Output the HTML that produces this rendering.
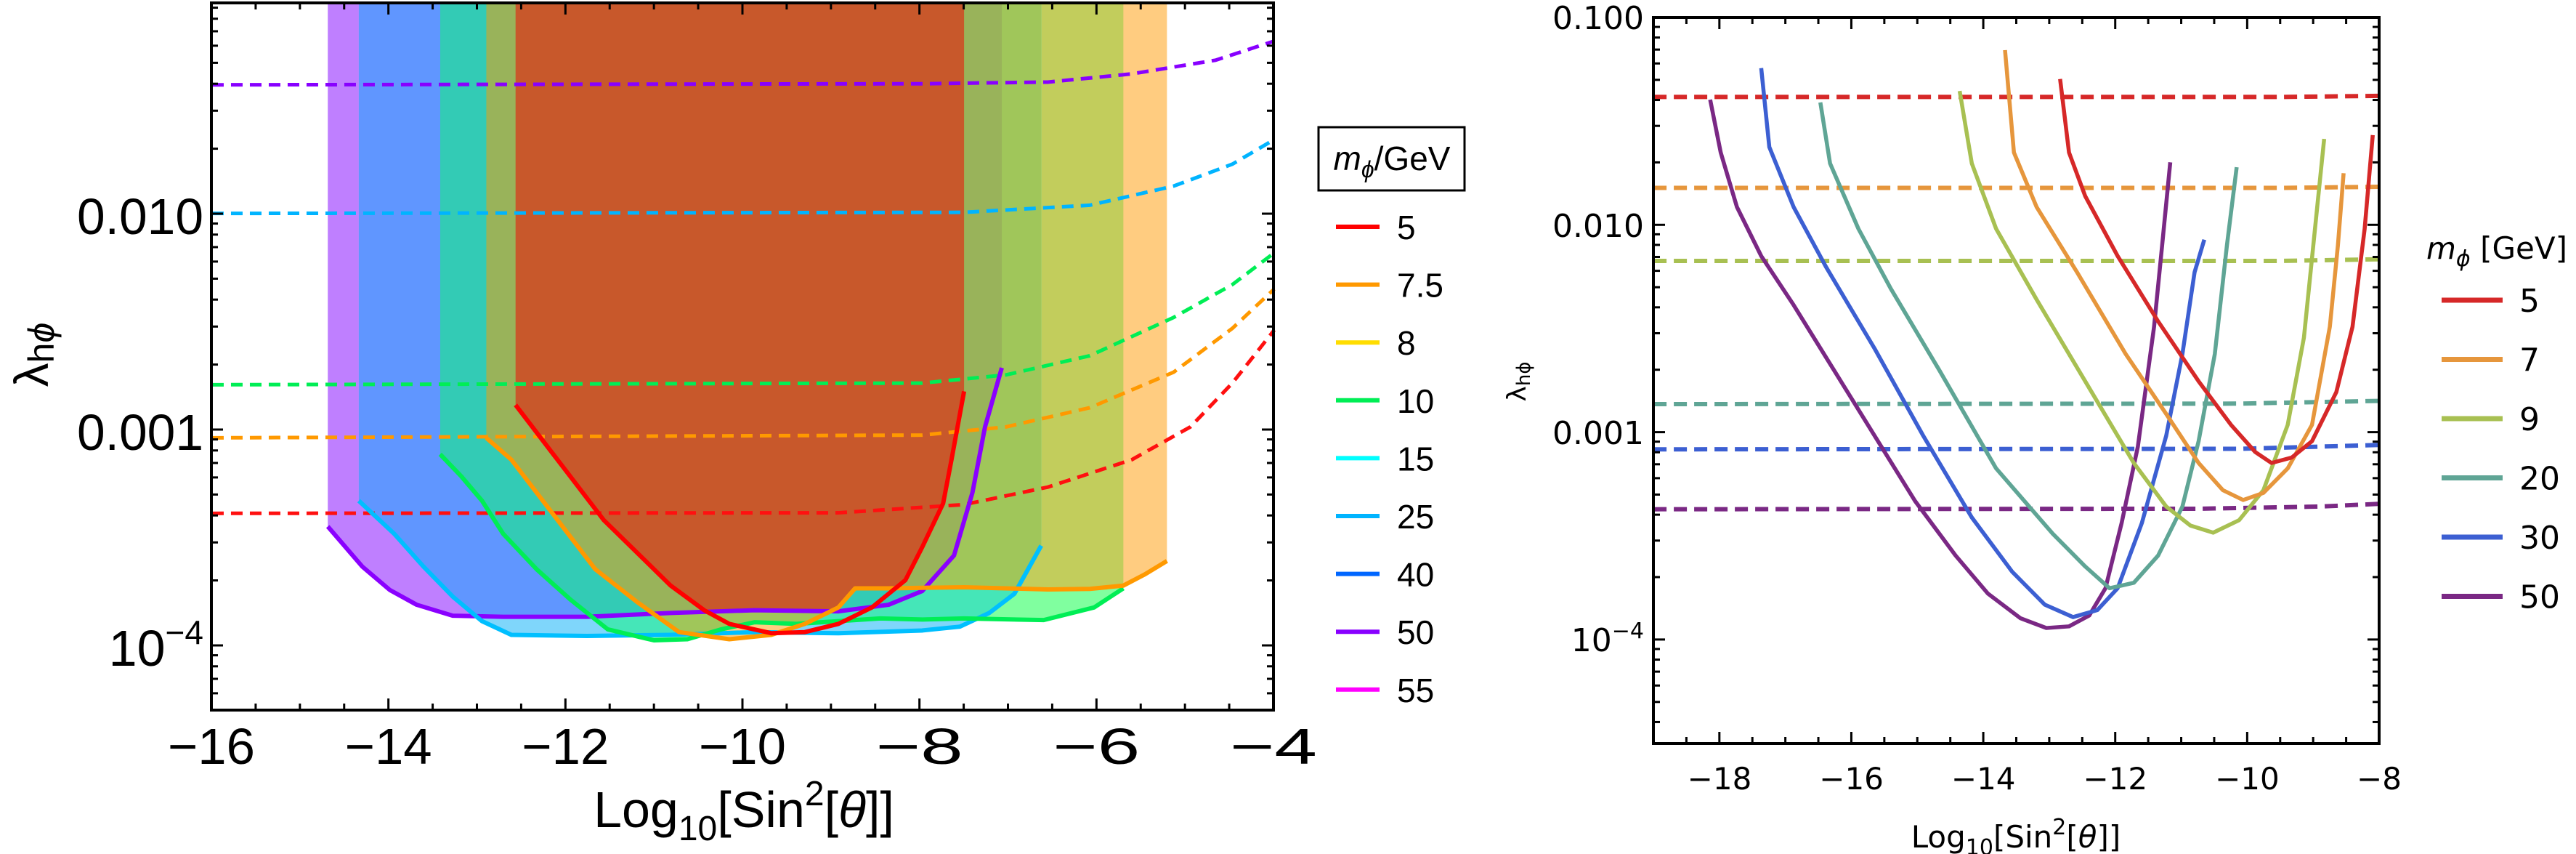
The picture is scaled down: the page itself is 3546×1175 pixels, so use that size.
<!DOCTYPE html>
<html><head><meta charset="utf-8"><style>
html,body{margin:0;padding:0;background:#fff;}
svg{display:block;}
</style></head><body>
<svg id="s" xmlns="http://www.w3.org/2000/svg" width="3546" height="1175" viewBox="0 0 3546 1175">
<defs>
<clipPath id="cP"><path id="pP" d=""/></clipPath>
<clipPath id="cC"><path id="pC" d=""/></clipPath>
<clipPath id="cG"><path id="pG" d=""/></clipPath>
<clipPath id="cO"><path id="pO" d=""/></clipPath>
<clipPath id="cR"><path id="pR" d=""/></clipPath>
</defs>
<g id="left" transform="scale(1.154,0.753)"></g>
<g id="right" transform="translate(1800,0) scale(1.115,0.7494)"></g>
<g id="ann"></g>
</svg>
<script>
var NS="http://www.w3.org/2000/svg";
function el(parent,tag,attrs,text){var e=document.createElementNS(NS,tag);for(var k in attrs)e.setAttribute(k,attrs[k]);if(text!==undefined)e.textContent=text;parent.appendChild(e);return e;}
function pts(a){return a.map(function(p){return p[0]+","+p[1]}).join(" L");}
var T=5;
var cP=[[391,962],[432,1035],[465,1078],[497,1105],[540,1125],[600,1127],[700,1127],[800,1120],[900,1115],[1000,1117],[1060,1105],[1100,1080],[1138,1015],[1160,900],[1175,780],[1195,672]];
var cC=[[428,915],[470,975],[505,1035],[540,1090],[575,1135],[610,1160],[700,1162],[800,1160],[900,1155],[1000,1157],[1100,1152],[1145,1145],[1180,1120],[1210,1085],[1242,997]];
var cG=[[525,830],[550,870],[575,915],[600,975],[640,1040],[680,1095],[725,1150],[780,1170],[820,1168],[860,1150],[900,1137],[950,1140],[1000,1135],[1050,1130],[1100,1132],[1150,1130],[1245,1133],[1305,1110],[1340,1075]];
var cO=[[580,800],[610,840],[640,900],[670,960],[710,1040],[760,1100],[810,1155],[870,1168],[920,1160],[960,1140],[1000,1110],[1020,1075],[1060,1075],[1150,1073],[1250,1077],[1300,1076],[1340,1070],[1365,1050],[1392,1025]];
var cR=[[615,740],[640,790],[680,870],[720,950],[760,1010],[800,1070],[840,1115],[870,1140],[920,1157],[960,1155],[1000,1140],[1040,1110],[1080,1060],[1100,1000],[1125,920],[1135,840],[1150,715]];
function region(c){var a=c[0],b=c[c.length-1];return "M"+a[0]+","+T+" L"+pts(c)+" L"+b[0]+","+T+" Z";}
document.getElementById("pP").setAttribute("d",region(cP));
document.getElementById("pC").setAttribute("d",region(cC));
document.getElementById("pG").setAttribute("d",region(cG));
document.getElementById("pO").setAttribute("d",region(cO));
document.getElementById("pR").setAttribute("d",region(cR));
var L=document.getElementById("left");
function fillR(c,col,clips){var g=L;for(var i=0;i<clips.length;i++){g=el(g,"g",{"clip-path":"url(#"+clips[i]+")"});}el(g,"path",{d:region(c),fill:col});}
fillR(cP,"#bf7fff",[]);
fillR(cC,"#7fd6fb",[]);
fillR(cG,"#80ff9f",[]);
fillR(cO,"#ffcc80",[]);
fillR(cG,"#c2cd5c",["cO"]);
fillR(cC,"#45e6b8",["cG"]);
fillR(cC,"#a0c65a",["cO","cG"]);
fillR(cC,"#6096ff",["cP"]);
fillR(cC,"#33cbb5",["cP","cG"]);
fillR(cC,"#99b35a",["cP","cG","cO"]);
fillR(cR,"#c8582b",["cP","cC","cG","cO"]);
var dl=[["#8800ff",[[253,155],[1100,153],[1250,150],[1350,135],[1450,110],[1520,75]]],
["#00b4ff",[[253,390],[1150,388],[1300,375],[1400,340],[1470,300],[1520,255]]],
["#00ee55",[[253,703],[1100,700],[1200,685],[1300,650],[1400,580],[1470,520],[1520,462]]],
["#ff9900",[[253,800],[1100,795],[1200,780],[1300,745],[1400,680],[1470,600],[1520,528]]],
["#ff1010",[[253,938],[1000,937],[1150,922],[1250,890],[1350,840],[1420,780],[1470,700],[1520,603]]]];
dl.forEach(function(d){el(L,"path",{d:"M"+pts(d[1]),fill:"none",stroke:d[0],"stroke-width":5,"stroke-dasharray":"16 10","vector-effect":"non-scaling-stroke"});});
[["#8a00ff",cP],["#00bfff",cC],["#00ee55",cG],["#ff9900",cO],["#ff0000",cR]].forEach(function(d){
 var c=d[1];
 el(L,"path",{d:"M"+pts(c),fill:"none",stroke:d[0],"stroke-width":6,"stroke-linejoin":"round","vector-effect":"non-scaling-stroke"});});
var R=document.getElementById("right");
var rd=[["#d62828",[[427,178],[1200,178],[1323,176]]],["#e6963c",[[427,345],[1200,345],[1323,343]]],["#a8c052",[[427,479],[1200,479],[1323,476]]],["#5fa595",[[427,742],[1150,741],[1323,736]]],["#3c5fd2",[[427,825],[1150,824],[1323,817]]],["#7a2884",[[427,935],[1100,934],[1250,930],[1323,925]]]];
rd.forEach(function(d){el(R,"path",{d:"M"+pts(d[1]),fill:"none",stroke:d[0],"stroke-width":6,"stroke-dasharray":"18 10","vector-effect":"non-scaling-stroke"});});
var rs=[["#7a2884",[[497,183],[510,280],[530,380],[560,470],[600,560],[650,680],[700,800],[750,920],[800,1020],[840,1090],[880,1135],[912,1153],[940,1150],[965,1130],[985,1080],[1005,960],[1025,820],[1045,600],[1055,450],[1065,298]]],
["#3c5fd2",[[560,125],[570,270],[600,380],[640,490],[700,640],[760,800],[820,950],[870,1050],[910,1110],[945,1133],[975,1120],[1000,1080],[1030,960],[1060,800],[1080,650],[1095,500],[1107,440]]],
["#5fa595",[[633,188],[645,300],[680,420],[720,530],[780,680],[850,860],[920,980],[960,1040],[990,1080],[1020,1070],[1050,1020],[1080,930],[1100,810],[1120,650],[1135,450],[1147,307]]],
["#a8c052",[[805,167],[820,300],[850,420],[900,550],[960,700],[1020,850],[1060,930],[1090,965],[1118,978],[1150,955],[1180,900],[1210,780],[1230,620],[1243,430],[1255,255]]],
["#e6963c",[[861,92],[872,280],[900,380],[950,500],[1010,650],[1060,760],[1100,850],[1130,900],[1155,918],[1180,905],[1210,860],[1240,780],[1262,600],[1272,450],[1279,318]]],
["#d62828",[[929,145],[940,280],[960,360],[1000,470],[1050,590],[1100,700],[1140,780],[1170,830],[1190,850],[1215,840],[1240,810],[1270,720],[1290,600],[1305,420],[1315,248]]]];
rs.forEach(function(d){el(R,"path",{d:"M"+pts(d[1]),fill:"none",stroke:d[0],"stroke-width":5.5,"stroke-linejoin":"round","vector-effect":"non-scaling-stroke"});});
var A=document.getElementById("ann");
function frame(x0,y0,x1,y1,xmin,xmax,xstep,ldec,ytop,decpx,lw){
 el(A,"rect",{x:x0,y:y0,width:x1-x0,height:y1-y0,fill:"none",stroke:"#000","stroke-width":lw});
 var sx=(x1-x0)/(xmax-xmin);
 for(var v=xmin;v<=xmax+1e-6;v+=0.5){var x=x0+(v-xmin)*sx;var maj=Math.abs(v/xstep-Math.round(v/xstep))<1e-6;var len=maj?16:9;
  el(A,"line",{x1:x,y1:y1,x2:x,y2:y1-len,stroke:"#000","stroke-width":3});el(A,"line",{x1:x,y1:y0,x2:x,y2:y0+len,stroke:"#000","stroke-width":3});}
 for(var d=-6;d<=0;d++){for(var m=1;m<10;m++){var lv=d+Math.log10(m);var y=ldec-(lv+2)*decpx;if(y<y0-1||y>y1+1)continue;var len=m==1?16:9;
  el(A,"line",{x1:x0,y1:y,x2:x0+len,y2:y,stroke:"#000","stroke-width":3});el(A,"line",{x1:x1,y1:y,x2:x1-len,y2:y,stroke:"#000","stroke-width":3});}}
}
frame(291,4,1753,977,-16,-4,2,294,4,297,4);
frame(2276,24,3275,1023,-19,-8,2,309.3,24,285.3,4);
var fL='font-family:"Liberation Sans",Arial,sans-serif;fill:#000;';
var fR='font-family:"DejaVu Sans",sans-serif;fill:#000;';
[-16,-14,-12,-10,-8,-6,-4].forEach(function(v){var x=291+(v+16)*121.83;el(A,"text",{x:x,y:1051,"text-anchor":"middle",style:fL+"font-size:70px;",textLength:120,lengthAdjust:"spacingAndGlyphs"},"\u2212"+(-v));});
[["0.010",322],["0.001",619]].forEach(function(t){el(A,"text",{x:280,y:t[1],"text-anchor":"end",style:fL+"font-size:70px;",textLength:174,lengthAdjust:"spacingAndGlyphs"},t[0]);});
var t4=el(A,"text",{x:280,y:916,"text-anchor":"end",style:fL+"font-size:70px;"});t4.innerHTML='10<tspan dy="-30" font-size="46">\u22124</tspan>';
var xt=el(A,"text",{x:1024,y:1138,"text-anchor":"middle",style:fL+"font-size:70px;"});
xt.innerHTML='Log<tspan dy="18" font-size="48">10</tspan><tspan dy="-18">[Sin</tspan><tspan dy="-30" font-size="48">2</tspan><tspan dy="30">[</tspan><tspan font-style="italic">θ</tspan>]]';
var yt=el(A,"text",{x:0,y:0,"text-anchor":"middle",transform:"translate(66,488) rotate(-90)",style:fL+"font-size:66px;"});
yt.innerHTML='λ<tspan font-size="50" dy="8">h</tspan><tspan font-size="50" dy="0" font-style="italic">ϕ</tspan>';
el(A,"rect",{x:1815,y:175,width:201,height:87,fill:"#fff",stroke:"#000","stroke-width":3});
var lt=el(A,"text",{x:1916,y:234,"text-anchor":"middle",style:fL+"font-size:46px;"});lt.innerHTML='<tspan font-style="italic">m</tspan><tspan font-style="italic" font-size="32" dy="10">ϕ</tspan><tspan dy="-10">/GeV</tspan>';
var l1=[["#ff0000","5"],["#ff9900","7.5"],["#ffdd00","8"],["#00ee55","10"],["#00ffff","15"],["#00b4ff","25"],["#0066ff","40"],["#8800ff","50"],["#ff00ff","55"]];
l1.forEach(function(d,i){var y=312+i*79.6;el(A,"line",{x1:1839,y1:y,x2:1899,y2:y,stroke:d[0],"stroke-width":6});el(A,"text",{x:1923,y:y+17,style:fL+"font-size:46px;"},d[1]);});
[-18,-16,-14,-12,-10,-8].forEach(function(v){var x=3275+(v+8)*90.8;el(A,"text",{x:x,y:1086,"text-anchor":"middle",style:fR+"font-size:42px;"},"\u2212"+(-v));});
[["0.100",40],["0.010",326],["0.001",611]].forEach(function(t){el(A,"text",{x:2263,y:t[1],"text-anchor":"end",style:fR+"font-size:44px;"},t[0]);});
var r4=el(A,"text",{x:2263,y:896,"text-anchor":"end",style:fR+"font-size:44px;"});r4.innerHTML='10<tspan dy="-18" font-size="30">\u22124</tspan>';
var rx=el(A,"text",{x:2775,y:1166,"text-anchor":"middle",style:fR+"font-size:42px;"});
rx.innerHTML='Log<tspan dy="10" font-size="30">10</tspan><tspan dy="-10">[Sin</tspan><tspan dy="-18" font-size="30">2</tspan><tspan dy="18">[</tspan><tspan font-style="italic">θ</tspan>]]';
var ry=el(A,"text",{x:0,y:0,"text-anchor":"middle",transform:"translate(2100,525) rotate(-90)",style:fR+"font-size:36px;"});
ry.innerHTML='λ<tspan font-size="26" dy="6">hϕ</tspan>';
var r2=el(A,"text",{x:3340,y:356,style:fR+"font-size:42px;"});r2.innerHTML='<tspan font-style="italic">m</tspan><tspan font-style="italic" font-size="30" dy="10">ϕ</tspan><tspan dy="-10"> [GeV]</tspan>';
var l2=[["#d62828","5"],["#e6963c","7"],["#a8c052","9"],["#5fa595","20"],["#3c5fd2","30"],["#7a2884","50"]];
l2.forEach(function(d,i){var y=413+i*81.5;el(A,"line",{x1:3361,y1:y,x2:3445,y2:y,stroke:d[0],"stroke-width":7});el(A,"text",{x:3468,y:y+16,style:fR+"font-size:44px;"},d[1]);});
</script>
</body></html>
